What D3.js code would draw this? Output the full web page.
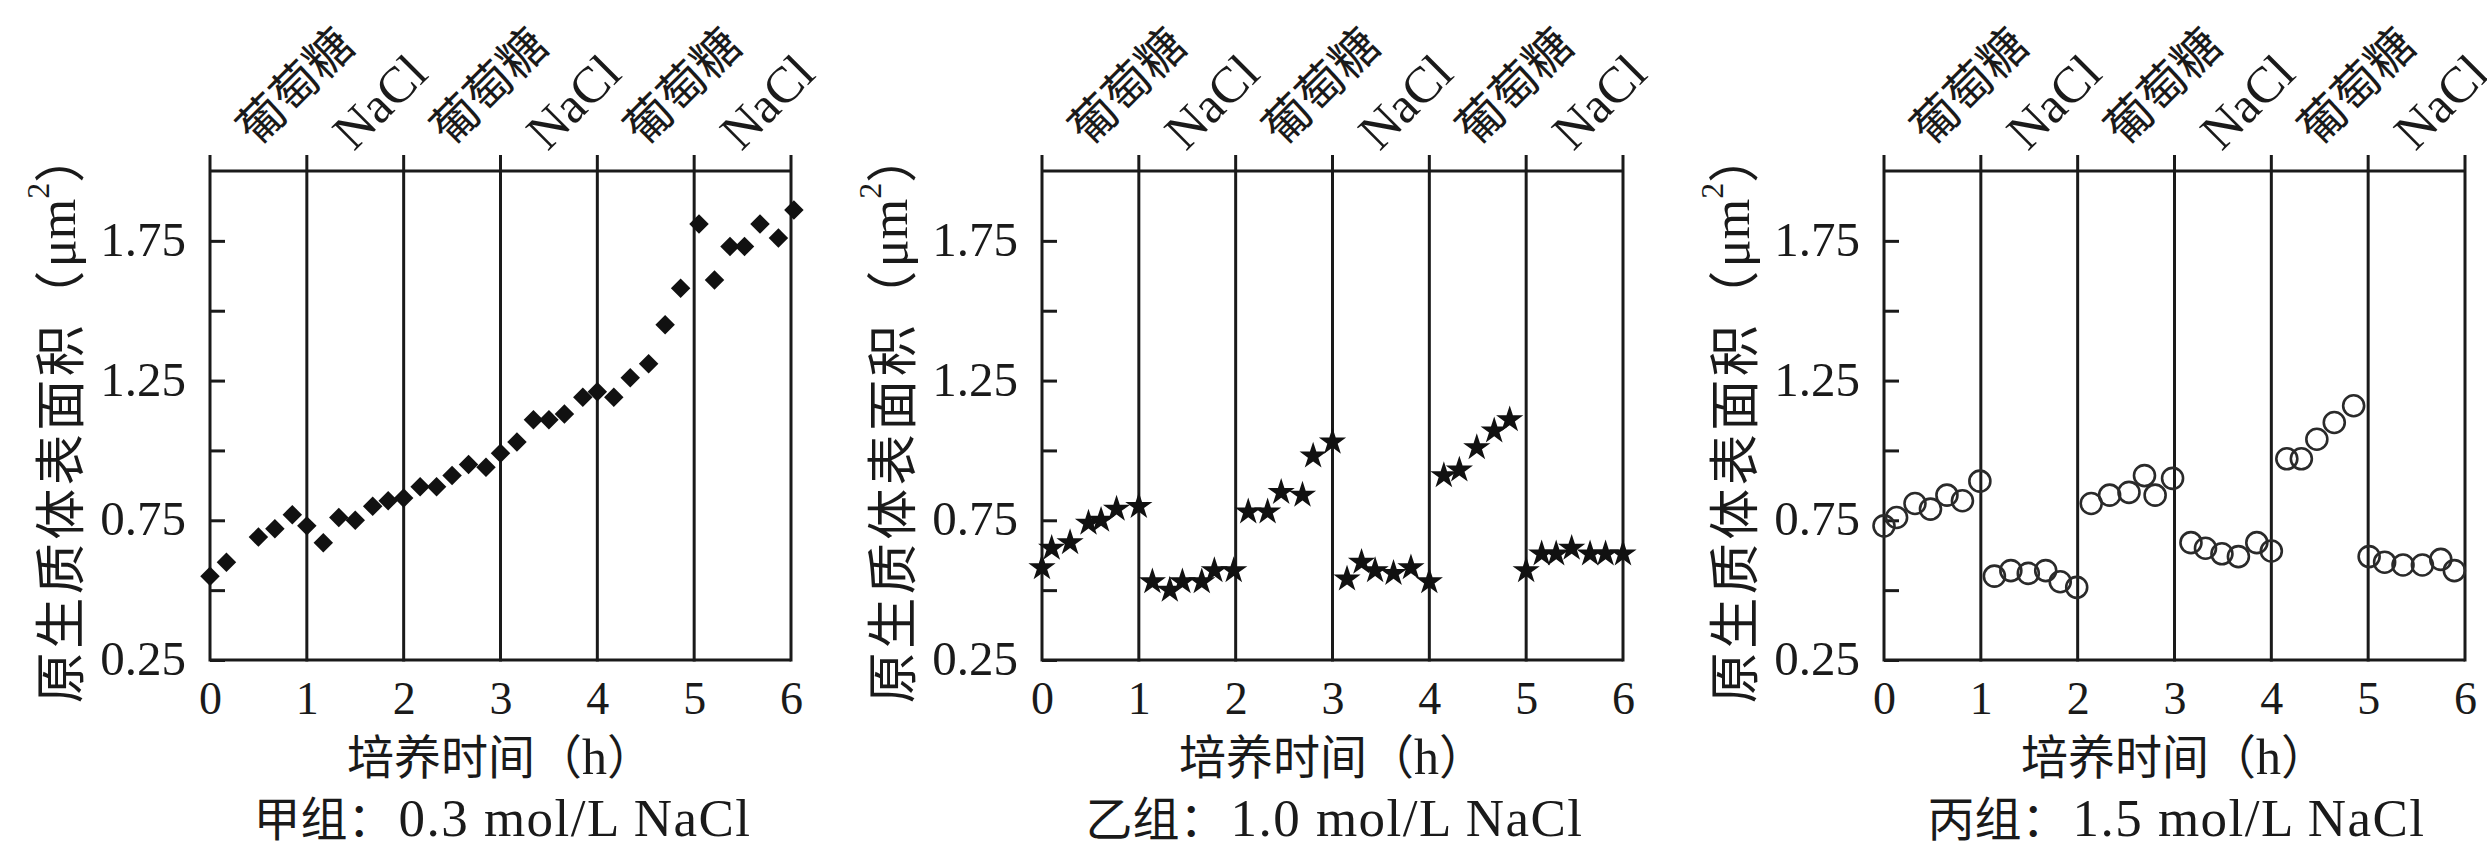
<!DOCTYPE html>
<html>
<head>
<meta charset="utf-8">
<script src="https://cdn.jsdelivr.net/npm/d3@7"></script>
<style>
body { margin: 0; background: #fff; }
text { fill: #1a1a1a; }
.serif { font-family: 'Liberation Serif', 'DejaVu Serif', serif; }
.cjk { font-family: 'Noto Sans CJK SC', sans-serif; }
.frame { stroke: #1a1a1a; stroke-width: 3; fill: none; }
</style>
</head>
<body>
<div id="chart-area"></div>
<script>
// data (time in h, area in um^2)
var hourTicks = [0, 1, 2, 3, 4, 5, 6];
var yTickValues = [0.25, 0.5, 0.75, 1.0, 1.25, 1.5, 1.75];
var yTickLabels = ['0.25', '', '0.75', '', '1.25', '', '1.75'];
var mediumLabels = ['葡萄糖', 'NaCl', '葡萄糖', 'NaCl', '葡萄糖', 'NaCl'];

var jiaTime = [0, 0.17, 0.5, 0.67, 0.85, 1.0, 1.17, 1.33, 1.5, 1.68, 1.84, 2.0, 2.17, 2.34, 2.5, 2.67, 2.85, 3.0,
    3.17, 3.34, 3.5, 3.66, 3.85, 4.0, 4.17, 4.34, 4.53, 4.7, 4.86, 5.05, 5.21, 5.37, 5.52, 5.68, 5.87, 6.03];
var jiaArea = [0.55, 0.60, 0.69, 0.72, 0.77, 0.73, 0.67, 0.76, 0.75, 0.80, 0.82, 0.83, 0.87, 0.87, 0.91, 0.95, 0.94, 0.99,
    1.03, 1.11, 1.11, 1.13, 1.19, 1.21, 1.19, 1.26, 1.31, 1.45, 1.58, 1.81, 1.61, 1.73, 1.73, 1.81, 1.76, 1.86];

var yiTime = [0, 0.1, 0.29, 0.48, 0.61, 0.77, 1.0, 1.14, 1.32, 1.45, 1.65, 1.78, 1.98, 2.13, 2.33, 2.47, 2.69, 2.8, 3.0,
    3.15, 3.3, 3.44, 3.63, 3.81, 4.0, 4.15, 4.31, 4.49, 4.67, 4.83, 5.0, 5.16, 5.31, 5.47, 5.66, 5.82, 6.0];
var yiArea = [0.58, 0.65, 0.67, 0.74, 0.75, 0.79, 0.80, 0.53, 0.50, 0.53, 0.53, 0.57, 0.57, 0.78, 0.78, 0.85, 0.84, 0.98, 1.03,
    0.54, 0.60, 0.57, 0.56, 0.58, 0.53, 0.91, 0.93, 1.01, 1.07, 1.11, 0.57, 0.63, 0.63, 0.65, 0.63, 0.63, 0.63];

var bingTime = [0, 0.13, 0.32, 0.48, 0.65, 0.81, 0.99, 1.14, 1.31, 1.49, 1.67, 1.82, 1.99, 2.14, 2.33, 2.53, 2.69, 2.8, 2.98,
    3.17, 3.32, 3.49, 3.66, 3.85, 4.0, 4.16, 4.31, 4.47, 4.65, 4.85, 5.01, 5.17, 5.36, 5.56, 5.75, 5.89];
var bingArea = [0.73, 0.76, 0.81, 0.79, 0.84, 0.82, 0.89, 0.55, 0.57, 0.56, 0.57, 0.53, 0.51, 0.81, 0.84, 0.85, 0.91, 0.84, 0.90,
    0.67, 0.65, 0.63, 0.62, 0.67, 0.64, 0.97, 0.97, 1.04, 1.10, 1.16, 0.62, 0.60, 0.59, 0.59, 0.61, 0.57];

var groupNames = ['甲组：', '乙组：', '丙组：'];
var groupConc = ['0.3 mol/L NaCl', '1.0 mol/L NaCl', '1.5 mol/L NaCl'];

// layout
var svgW = 2487, svgH = 849;
var panelLeft = [210, 1042, 1884];
var width = 581;
var plotTop = 171, plotBottom = 660, lineTop = 155;

var svg = d3.select('#chart-area')
    .append('svg')
        .attr('width', svgW)
        .attr('height', svgH);

svg.append('rect').attr('width', svgW).attr('height', svgH).attr('fill', '#fff');

var panels = [
    { time: jiaTime, area: jiaArea, marker: 'diamond' },
    { time: yiTime, area: yiArea, marker: 'star' },
    { time: bingTime, area: bingArea, marker: 'circle' }
];

var yScale = d3.scaleLinear().domain([0.25, 2.0]).range([plotBottom, plotTop]);

panels.forEach(function(p, pi) {
    var g = svg.append('g').attr('transform', 'translate(' + panelLeft[pi] + ',0)');
    var xScale = d3.scaleLinear().domain([0, 6]).range([0, width]);

    // frame: bottom + top lines, vertical hour lines sticking out above
    g.append('line').attr('class', 'frame')
        .attr('x1', xScale(0)).attr('x2', xScale(6)).attr('y1', plotBottom).attr('y2', plotBottom);
    g.append('line').attr('class', 'frame')
        .attr('x1', xScale(0)).attr('x2', xScale(6)).attr('y1', plotTop).attr('y2', plotTop);
    g.selectAll('.hour-line').data(hourTicks).enter()
        .append('line').attr('class', 'frame hour-line')
        .attr('x1', function(d) { return xScale(d); })
        .attr('x2', function(d) { return xScale(d); })
        .attr('y1', plotBottom + 1.5).attr('y2', lineTop);

    // x axis labels
    var xAxis = d3.axisBottom(xScale).tickValues(hourTicks).tickSize(0).tickPadding(21)
        .tickFormat(function(d) { return d; });
    var xAxisGroup = g.append('g').attr('transform', 'translate(0,' + plotBottom + ')').call(xAxis);
    xAxisGroup.select('.domain').remove();
    xAxisGroup.selectAll('text').attr('class', 'serif').attr('font-size', 46).attr('fill', '#1a1a1a');

    // y axis: inward ticks, labels every 0.5
    var yAxis = d3.axisLeft(yScale).tickValues(yTickValues).tickSizeInner(-15).tickSizeOuter(0).tickPadding(24)
        .tickFormat(function(d, i) { return yTickLabels[i]; });
    var yAxisGroup = g.append('g').call(yAxis);
    yAxisGroup.select('.domain').remove();
    yAxisGroup.selectAll('line').attr('stroke', '#1a1a1a').attr('stroke-width', 3);
    yAxisGroup.selectAll('text').attr('class', 'serif').attr('font-size', 49).attr('fill', '#1a1a1a').attr('dy', '0.3em');

    // medium labels above each hour interval
    mediumLabels.forEach(function(lbl, i) {
        var isCjk = lbl !== 'NaCl';
        g.append('text')
            .attr('class', isCjk ? 'cjk' : 'serif')
            .attr('font-size', isCjk ? 47 : 51)
            .attr('transform', 'translate(' + (xScale(i) + 47) + ',' + (isCjk ? 148 : 152) + ') rotate(-45)')
            .text(lbl);
    });

    // y axis title
    var yTitle = g.append('text')
        .attr('transform', 'translate(-153,' + ((plotTop + plotBottom) / 2 + 2) + ') rotate(-90)')
        .attr('text-anchor', 'middle')
        .attr('dominant-baseline', 'central');
    yTitle.append('tspan').attr('class', 'cjk').attr('font-size', 51).attr('letter-spacing', 3.5).text('原生质体表面积（');
    yTitle.append('tspan').attr('class', 'serif').attr('font-size', 52).text('μm');
    yTitle.append('tspan').attr('class', 'serif').attr('font-size', 32).attr('dy', -19).text('2');
    yTitle.append('tspan').attr('class', 'cjk').attr('font-size', 51).attr('dy', 19).text('）');

    // x axis title
    var xTitle = g.append('text')
        .attr('x', width / 2).attr('y', 774)
        .attr('text-anchor', 'middle');
    xTitle.append('tspan').attr('class', 'cjk').attr('font-size', 47).text('培养时间（');
    xTitle.append('tspan').attr('class', 'serif').attr('font-size', 50).text('h');
    xTitle.append('tspan').attr('class', 'cjk').attr('font-size', 47).text('）');

    // caption
    var cap = g.append('text')
        .attr('x', width / 2 + 2).attr('y', 836)
        .attr('text-anchor', 'middle');
    cap.append('tspan').attr('class', 'cjk').attr('font-size', 47).text(groupNames[pi]);
    cap.append('tspan').attr('class', 'serif').attr('font-size', 53).attr('dx', 4)
        .attr('letter-spacing', 1.5).text(groupConc[pi]);

    // markers
    var pts = p.time.map(function(t, i) { return { t: t, v: p.area[i] }; });
    var marks = g.selectAll('.pt').data(pts).enter();
    if (p.marker === 'circle') {
        marks.append('circle').attr('class', 'pt')
            .attr('cx', function(d) { return xScale(d.t); })
            .attr('cy', function(d) { return yScale(d.v); })
            .attr('r', 10.5)
            .attr('fill', 'none')
            .attr('stroke', '#2a2a2a')
            .attr('stroke-width', 2.6);
    } else if (p.marker === 'star') {
        marks.append('path').attr('class', 'pt')
            .attr('d', d3.symbol().type(d3.symbolStar).size(230))
            .attr('transform', function(d) { return 'translate(' + xScale(d.t) + ',' + yScale(d.v) + ')'; })
            .attr('fill', '#111');
    } else {
        marks.append('path').attr('class', 'pt')
            .attr('d', d3.symbol().type(d3.symbolSquare).size(190))
            .attr('transform', function(d) { return 'translate(' + xScale(d.t) + ',' + yScale(d.v) + ') rotate(45)'; })
            .attr('fill', '#111');
    }
});
</script>
</body>
</html>
